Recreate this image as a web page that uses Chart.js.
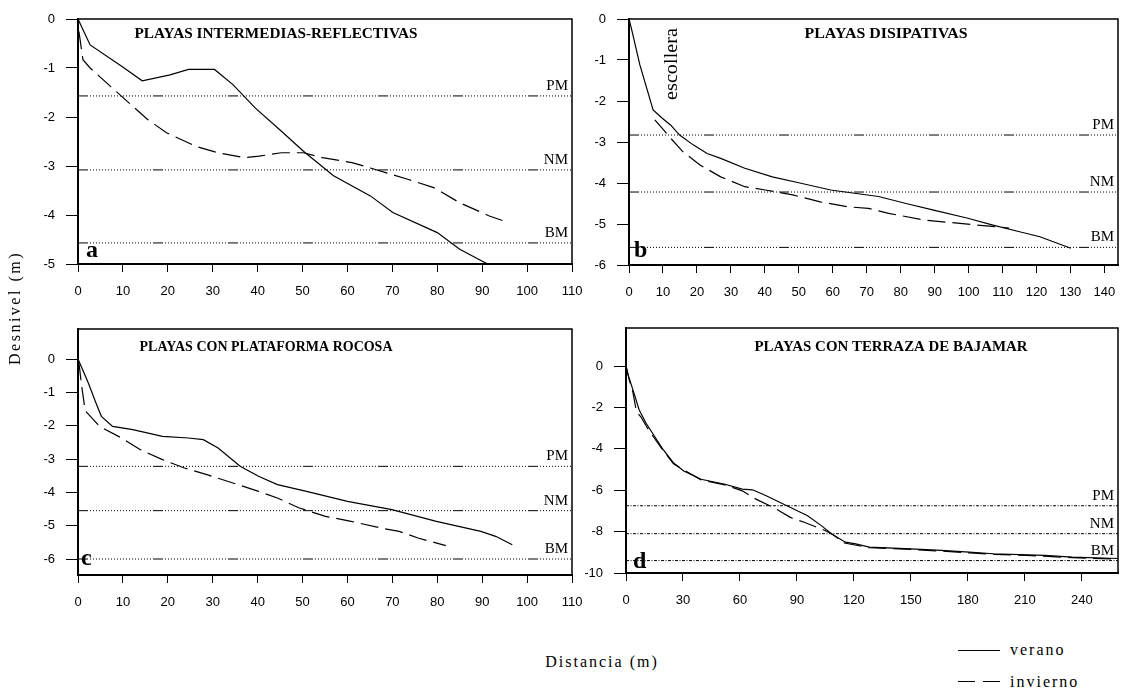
<!DOCTYPE html>
<html lang="es">
<head>
  <meta charset="UTF-8">
  <title>Perfiles de playa: verano e invierno</title>
  <script src="https://cdn.jsdelivr.net/npm/chart.js"></script>
  <style>
    body {
      margin: 0;
      background: #fff;
      width: 1121px;
      height: 691px;
      position: relative;
      overflow: hidden;
      font-family: 'Liberation Serif', serif;
      color: #000;
    }
    canvas { position: absolute; }
    .eje {
      position: absolute;
      font-size: 16px;
      white-space: nowrap;
      transform: translate(-50%, -50%);
    }
    #ejeY { left: 15px; top: 308px; letter-spacing: 2.5px; transform: translate(-50%, -50%) rotate(-90deg); }
    #ejeX { left: 602px; top: 662px; letter-spacing: 2px; }
    .muestra { position: absolute; border-top: 1.5px solid #000; }
    .leyenda { position: absolute; left: 1010px; font-size: 16px; letter-spacing: 2px; transform: translateY(-50%); }
  </style>
</head>
<body>

  <canvas id="cA" width="590" height="305" style="left:0;top:0;width:590px;height:305px"></canvas>
  <canvas id="cB" width="536" height="305" style="left:585px;top:0;width:536px;height:305px"></canvas>
  <canvas id="cC" width="590" height="310" style="left:0;top:310px;width:590px;height:310px"></canvas>
  <canvas id="cD" width="536" height="310" style="left:585px;top:310px;width:536px;height:310px"></canvas>

  <div class="eje" id="ejeY">Desnivel (m)</div>
  <div class="eje" id="ejeX">Distancia (m)</div>

  <div class="muestra" style="left:958px;top:650px;width:42px"></div>
  <div class="leyenda" style="top:650px">verano</div>
  <div class="muestra" style="left:958px;top:681px;width:17px"></div>
  <div class="muestra" style="left:983px;top:681px;width:17px"></div>
  <div class="leyenda" style="top:682px">invierno</div>

  <script>
    // niveles de marea
    const nivelNombres = ['PM', 'NM', 'BM'];

    // a) playas intermedias-reflectivas
    const aVerano = [[0,0],[2.7,-0.53],[9.8,-0.97],[14.3,-1.26],[20.5,-1.14],[24.6,-1.03],[30.4,-1.03],[34.5,-1.34],[39.5,-1.82],[45.3,-2.29],[50.2,-2.7],[56.9,-3.2],[65.1,-3.61],[70.1,-3.95],[80,-4.36],[85,-4.7],[91.2,-5.0]];
    const aInvierno = [[0.2,-0.25],[1.1,-0.83],[2.7,-1.0],[7.3,-1.38],[10.6,-1.65],[15.5,-2.05],[19.7,-2.32],[26.3,-2.6],[31.2,-2.73],[37,-2.83],[40.3,-2.8],[45.3,-2.73],[50.2,-2.73],[54.4,-2.83],[61,-2.93],[65.1,-3.04],[73.4,-3.27],[79.2,-3.44],[85,-3.75],[91.6,-4.02],[95.7,-4.15]];
    const aNiveles = [-1.57, -3.08, -4.57];
    const aTicksX = [0, 10, 20, 30, 40, 50, 60, 70, 80, 90, 100, 110];
    const aTicksY = [0, -1, -2, -3, -4, -5];
    const aRangoX = [0, 110];
    const aRangoY = [-5, 0];

    // b) playas disipativas
    const bVerano = [[0,0],[0.7,-0.23],[3.2,-1.12],[7.1,-2.22],[9.8,-2.42],[12.3,-2.59],[14.9,-2.83],[18.9,-3.07],[23,-3.28],[27,-3.4],[34.1,-3.64],[42.2,-3.85],[50.3,-4.0],[59.4,-4.17],[66.4,-4.25],[73.5,-4.33],[81.6,-4.5],[89.7,-4.66],[99.8,-4.86],[106.9,-5.02],[115,-5.19],[121,-5.31],[130.1,-5.59]];
    const bInvierno = [[7.6,-2.46],[9.8,-2.67],[12.3,-2.91],[15.9,-3.24],[20.9,-3.56],[27,-3.85],[34.1,-4.09],[40.1,-4.17],[48.2,-4.29],[56.3,-4.46],[64.4,-4.58],[70.5,-4.62],[76.5,-4.74],[86.6,-4.9],[96.7,-4.98],[106.9,-5.06],[111.9,-5.1]];
    const bNiveles = [-2.83, -4.22, -5.57];
    const bTicksX = [0, 10, 20, 30, 40, 50, 60, 70, 80, 90, 100, 110, 120, 130, 140];
    const bTicksY = [0, -1, -2, -3, -4, -5, -6];
    const bRangoX = [0, 144];
    const bRangoY = [-6, 0];

    // c) playas con plataforma rocosa
    const cVerano = [[0,0],[0.7,-0.22],[2.3,-0.72],[4,-1.32],[5.2,-1.72],[7.7,-2.02],[12.2,-2.12],[18.8,-2.32],[24.6,-2.37],[27.9,-2.42],[31.2,-2.67],[36.1,-3.22],[40.2,-3.52],[44.4,-3.77],[50.9,-3.97],[60,-4.27],[69.9,-4.52],[79.8,-4.87],[89.7,-5.17],[93,-5.32],[96.7,-5.57]];
    const cInvierno = [[0.2,-0.1],[0.8,-0.8],[1.6,-1.55],[4.8,-2.02],[9.7,-2.37],[13.9,-2.72],[18.8,-3.02],[23.7,-3.27],[28.7,-3.47],[34.5,-3.72],[40.2,-3.97],[44.4,-4.17],[49.3,-4.47],[55.1,-4.72],[60.8,-4.87],[67.4,-5.07],[71.5,-5.17],[75.7,-5.37],[81.9,-5.6]];
    const cNiveles = [-3.22, -4.55, -6.0];
    const cTicksX = [0, 10, 20, 30, 40, 50, 60, 70, 80, 90, 100, 110];
    const cTicksY = [0, -1, -2, -3, -4, -5, -6];
    const cRangoX = [0, 110];
    const cRangoY = [-6.48, 0.9];

    // d) playas con terraza de bajamar
    const dVerano = [[0,0],[1.4,-0.51],[4.2,-1.31],[6.9,-2.11],[10.5,-2.75],[19.5,-4.03],[24.9,-4.67],[30.4,-5.07],[39.5,-5.47],[52.1,-5.71],[61.2,-5.95],[66.6,-5.98],[73.8,-6.27],[84.7,-6.75],[95.6,-7.23],[102.8,-7.71],[108.3,-8.11],[115.5,-8.51],[120.9,-8.59],[128.1,-8.75],[149.9,-8.83],[166.1,-8.91],[180.6,-8.99],[193.3,-9.07],[211.4,-9.12],[220.4,-9.15],[234.9,-9.23],[259,-9.3]];
    const dInvierno = [[0,0],[1.8,-0.7],[3.3,-1.1],[4.5,-1.7],[5.5,-2.2],[7.8,-2.45],[12,-3.1],[19.5,-4.08],[25,-4.72],[30.4,-5.02],[39.5,-5.5],[52.1,-5.74],[61.2,-6.03],[68.4,-6.43],[77.5,-6.83],[86.5,-7.31],[93.8,-7.55],[102.8,-7.87],[108.3,-8.1],[115,-8.55],[128,-8.78],[150,-8.86],[166,-8.94],[181,-9.03],[194,-9.1],[211,-9.15],[235,-9.26],[259,-9.33]];
    const dNiveles = [-6.75, -8.1, -9.4];
    const dTicksX = [0, 30, 60, 90, 120, 150, 180, 210, 240];
    const dTicksY = [0, -2, -4, -6, -8, -10];
    const dRangoX = [0, 259];
    const dRangoY = [-10, 1.84];

    // estilos de linea
    const discontinua = [18, 7];
    const punteado = [10, 2].concat(Array(21).fill([1, 2]).flat());
    const punteadoD = [3, 1.5, 1, 1.5];

    Chart.defaults.font.family = "'Liberation Sans', Arial, sans-serif";
    Chart.defaults.color = '#000';

    function textoAncho(ctx, txt, x, y, ancho) {
      const w = ctx.measureText(txt).width;
      ctx.save();
      ctx.translate(x, y);
      ctx.scale(ancho / w, 1);
      ctx.fillText(txt, 0, 0);
      ctx.restore();
    }

    // marco + textos dentro del grafico
    const anotaciones = {
      id: 'anotaciones',
      afterDatasetsDraw(chart, args, o) {
        const { ctx, chartArea: a, scales } = chart;
        ctx.save();
        ctx.strokeStyle = '#000';
        ctx.lineWidth = 1.5;
        ctx.strokeRect(a.left, a.top, a.right - a.left, a.bottom - a.top);

        ctx.fillStyle = '#000';
        // titulo
        ctx.font = "bold 14px 'Liberation Serif'";
        ctx.textAlign = 'center';
        ctx.textBaseline = 'middle';
        textoAncho(ctx, o.titulo, o.tit.cx - o.pos.left, o.tit.cy - o.pos.top, o.tit.w);

        // PM / NM / BM
        ctx.font = "15px 'Liberation Serif'";
        ctx.textAlign = 'right';
        ctx.textBaseline = 'alphabetic';
        o.niveles.forEach((v, i) => {
          ctx.fillText(nivelNombres[i], a.right - 4, scales.y.getPixelForValue(v) - 6);
        });

        // letra del panel
        ctx.font = "bold 24px 'Liberation Serif'";
        ctx.textAlign = 'left';
        ctx.fillText(o.letra, a.left + o.let.dx, a.bottom - o.let.dy);

        if (o.extra) {
          ctx.font = "18px 'Liberation Serif'";
          ctx.textAlign = 'center';
          ctx.textBaseline = 'middle';
          ctx.translate(o.extra.x - o.pos.left, o.extra.y - o.pos.top);
          ctx.rotate(-Math.PI / 2);
          textoAncho(ctx, o.extra.texto, 0, 0, o.extra.w);
        }
        ctx.restore();
      }
    };

    function makePanel(p) {
      const yAncho = p.area.left - p.pos.left;
      const xAlto = p.pos.top + p.tam.h - p.area.bottom;
      const serie = (pts, dash) => ({
        data: pts.map(([x, y]) => ({ x, y })),
        showLine: true,
        borderColor: '#000',
        borderWidth: 1.2,
        borderDash: dash,
        pointRadius: 0,
        tension: 0
      });
      const nivel = v => ({
        data: [{ x: p.rangoX[0], y: v }, { x: p.rangoX[1], y: v }],
        showLine: true,
        borderColor: '#000',
        borderWidth: 1,
        borderDash: p.punteo,
        pointRadius: 0
      });
      return new Chart(document.getElementById(p.id), {
        type: 'scatter',
        data: {
          datasets: [serie(p.verano, []), serie(p.invierno, discontinua)].concat(p.niveles.map(nivel))
        },
        options: {
          responsive: false,
          animation: false,
          devicePixelRatio: 1,
          events: [],
          layout: { padding: { top: p.area.top - p.pos.top, right: p.pos.left + p.tam.w - p.area.right, left: 0, bottom: 0 } },
          plugins: {
            legend: { display: false },
            tooltip: { enabled: false },
            anotaciones: {
              titulo: p.titulo, tit: p.tit, pos: p.pos, niveles: p.niveles,
              letra: p.letra, let: p.let, extra: p.extra
            }
          },
          scales: {
            x: {
              type: 'linear',
              min: p.rangoX[0],
              max: p.rangoX[1],
              afterBuildTicks: s => { s.ticks = p.ticksX.map(value => ({ value })); },
              afterFit: s => { s.height = xAlto; s.paddingLeft = 0; s.paddingRight = 0; },
              grid: { drawOnChartArea: false, tickLength: 8, color: '#000' },
              border: { color: '#000', width: 2 },
              ticks: { autoSkip: false, maxRotation: 0, minRotation: 0, padding: 12, font: { size: 13 } }
            },
            y: {
              type: 'linear',
              min: p.rangoY[0],
              max: p.rangoY[1],
              afterBuildTicks: s => { s.ticks = p.ticksY.map(value => ({ value })); },
              afterFit: s => { s.width = yAncho; s.paddingTop = 0; s.paddingBottom = 0; },
              grid: { drawOnChartArea: false, tickLength: 12, color: '#000' },
              border: { color: '#000', width: 2 },
              ticks: { padding: 11, font: { size: 13 }, callback: v => String(v) }
            }
          }
        },
        plugins: [anotaciones]
      });
    }

    const paneles = [
      { id: 'cA', verano: aVerano, invierno: aInvierno, niveles: aNiveles, ticksX: aTicksX, ticksY: aTicksY,
        rangoX: aRangoX, rangoY: aRangoY, titulo: 'PLAYAS INTERMEDIAS-REFLECTIVAS', letra: 'a',
        pos: { left: 0, top: 0 }, tam: { w: 590, h: 305 }, area: { left: 78, top: 19, right: 572, bottom: 264 },
        tit: { cx: 276, cy: 34, w: 283 }, let: { dx: 8, dy: 7 }, punteo: punteado },
      { id: 'cB', verano: bVerano, invierno: bInvierno, niveles: bNiveles, ticksX: bTicksX, ticksY: bTicksY,
        rangoX: bRangoX, rangoY: bRangoY, titulo: 'PLAYAS DISIPATIVAS', letra: 'b',
        pos: { left: 585, top: 0 }, tam: { w: 536, h: 305 }, area: { left: 629, top: 19, right: 1118, bottom: 265 },
        tit: { cx: 886, cy: 34, w: 163 }, let: { dx: 5, dy: 8 }, punteo: punteado,
        extra: { texto: 'escollera', x: 672, y: 64, w: 72 } },
      { id: 'cC', verano: cVerano, invierno: cInvierno, niveles: cNiveles, ticksX: cTicksX, ticksY: cTicksY,
        rangoX: cRangoX, rangoY: cRangoY, titulo: 'PLAYAS CON PLATAFORMA ROCOSA', letra: 'c',
        pos: { left: 0, top: 310 }, tam: { w: 590, h: 310 }, area: { left: 78, top: 329, right: 572, bottom: 575 },
        tit: { cx: 266, cy: 347, w: 253 }, let: { dx: 3, dy: 10 }, punteo: punteado },
      { id: 'cD', verano: dVerano, invierno: dInvierno, niveles: dNiveles, ticksX: dTicksX, ticksY: dTicksY,
        rangoX: dRangoX, rangoY: dRangoY, titulo: 'PLAYAS CON TERRAZA DE BAJAMAR', letra: 'd',
        pos: { left: 585, top: 310 }, tam: { w: 536, h: 310 }, area: { left: 626, top: 328, right: 1118, bottom: 573 },
        tit: { cx: 891, cy: 347, w: 273 }, let: { dx: 7, dy: 5 }, punteo: punteadoD }
    ];

    paneles.forEach(makePanel);
  </script>
</body>
</html>
